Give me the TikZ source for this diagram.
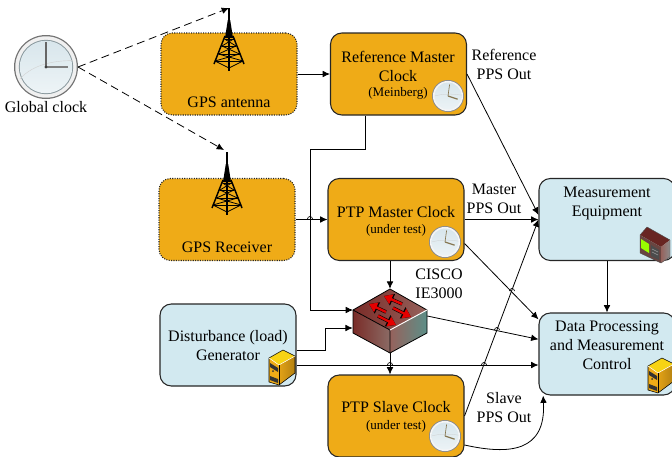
\documentclass[tikz,border=0pt]{standalone}
\usepackage{fontspec}
\setmainfont{Liberation Serif}
\usepackage{xcolor}
\usepackage{tikz}
\usetikzlibrary{arrows.meta}
\definecolor{boxorange}{HTML}{EFAB17}
\definecolor{boxblue}{HTML}{D2E9F0}
\definecolor{clockface}{HTML}{D8E6EC}
\definecolor{handbrown}{HTML}{85754F}
\definecolor{swred}{HTML}{7A2C28}
\definecolor{swmid}{HTML}{96625C}
\definecolor{swteal}{HTML}{5C8F88}
\tikzset{
    block/.style={draw=black!85, line width=0.8pt, rounded corners=8.5pt, minimum width=102pt, minimum height=61.5pt, align=center, inner sep=0pt},
    gpsblock/.style={block, fill=boxorange, densely dotted},
    clockblock/.style={block, fill=boxorange},
    infoblock/.style={block, fill=boxblue},
    label/.style={align=center, inner sep=0pt, font=\fontsize{12}{14.25}\selectfont},
    small/.style={font=\fontsize{9.8}{11}\selectfont},
    switchbox/.style={minimum width=55.5pt, minimum height=48pt, inner sep=0pt},
    link/.style={line width=0.6pt, -{Latex[length=5.5pt,width=5pt]}},
    radiolink/.style={link, dash pattern=on 6pt off 3.5pt},
    hopline/.style={line width=0.5pt},
    redarrow/.style={red!90!black, line width=1.8pt, -{Triangle[length=6pt,width=7.5pt]}},
    redshadow/.style={black, line width=2.6pt, -{Triangle[length=7pt,width=9pt]}},
    % big clock
    clockicon/.pic={
        \fill[black!55] (0,0) circle (1);
        \fill[black!6] (0,0) circle (0.96);
        \fill[black!35!boxblue] (0,0) circle (0.85);
        \shade[top color=clockface, bottom color=clockface!45] (0,0) circle (0.82);
        \draw[black!18, line width=0.3pt] (-0.82,0.38) .. controls (-0.4,-0.1) and (0.3,-0.2) .. (0.82,-0.2);
        \draw[black!60, line width=1pt] (0,0) -- (0,-0.78);
        \draw[black!50, line width=1.9pt] (0,0) -- (0.68,0);
        \fill[black!75] (0,0) circle (0.05);
    },
    % small clock of the boxes
    smallclock/.pic={
        \fill[black!45] (0,0) circle (1);
        \fill[black!4] (0,0) circle (0.94);
        \shade[top color=clockface, bottom color=clockface!50] (0,0) circle (0.84);
        \draw[black!20, line width=0.2pt] (-0.84,0) .. controls (-0.3,-0.15) and (0.3,-0.15) .. (0.84,-0.05);
        \draw[handbrown, line width=0.5pt] (0,0) -- (0.1,-0.72);
        \draw[handbrown, line width=0.9pt] (0,0) -- (0.6,0.2);
    },
    % tower
    towericon/.pic={
        \draw[line width=0.9pt] (0,0) -- (0,63);
        \fill (-1.2,12) -- (1.2,12) -- (4,30) -- (-4,30) -- cycle;
        \draw[line width=1.1pt] (-4,28) -- (-15,56) (4,28) -- (15,56);
        \foreach \ty/\tw in {31/4.5, 38/7, 46/10.5, 53/14}
            \draw[line width=0.7pt] (-\tw,\ty) -- (\tw,\ty);
        \draw[line width=0.6pt] (-4.5,31) -- (7,38) -- (-10.5,46) -- (14,53);
        \draw[line width=0.6pt] (4.5,31) -- (-7,38) -- (10.5,46) -- (-14,53);
        \draw[line width=0.6pt] (-14,53) -- (0,60) -- (14,53);
    },
    % server
    servericon/.pic={
        \fill[yellow!55!boxorange] (4,-15) -- (16,-9) -- (0,0) -- (-10,-7) -- cycle;
        \shade[left color=boxorange!95!black, right color=boxorange!75!black] (0,0) -- (16,-9) -- (16,8) -- (0,20) -- cycle;
        \fill[boxorange] (-10,-7) -- (0,0) -- (0,20) -- (-10,17) -- cycle;
        \fill[black!80] (-9,-2) -- (-1,3) -- (-1,7) -- (-9,2) -- cycle;
        \fill[black!80] (-6,6) circle (1);
        \fill[black!80] (-9,11) -- (-1,14) -- (-1,18) -- (-9,15) -- cycle;
        \draw[line width=0.4pt, line join=round] (4,-15) -- (16,-9) -- (16,8) -- (0,20) -- (-10,17) -- (-10,-7) -- cycle;
        \draw[white, line width=0.4pt] (-10,-7) -- (0,0) -- (16,-9);
        \draw[line width=0.4pt] (0,0) -- (0,20);
    },
    % measuring instrument
    metericon/.pic={
        \fill[swred!85!black] (0,0) -- (7,-8) -- (30,5) -- (21,12) -- cycle;
        \fill[swmid!70!black] (0,0) -- (21,12) -- (21,28) -- (0,18) -- cycle;
        \shade[left color=swmid, right color=black!45] (21,12) -- (30,5) -- (30,22) -- (21,28) -- cycle;
        \fill[green!40!yellow] (1,4) -- (9,9) -- (9,18) -- (1,13) -- cycle;
        \fill[black!70] (11,10) -- (19,15) -- (19,25) -- (11,21) -- cycle;
        \draw[black!40, line width=0.5pt] (12,14) -- (18,17) (12,17) -- (18,20);
        \draw[black!70, line width=0.3pt, line join=round] (0,0) -- (7,-8) -- (30,5) -- (30,22) -- (21,28) -- (0,18) -- cycle;
    },
}
\begin{document}
\begin{tikzpicture}[x=0.75pt, y=-0.75pt]
    \useasboundingbox (0,0) rectangle (672,457);

    % blocks
    \node[gpsblock] (antenna) at (229,74) {};
    \node[gpsblock] (receiver) at (227,219.5) {};
    \node[clockblock] (refclock) at (398.5,74) {};
    \node[clockblock] (masterclock) at (396,219.5) {};
    \node[clockblock] (slaveclock) at (396,416) {};
    \node[infoblock] (generator) at (228,345) {};
    \node[infoblock] (equipment) at (607,219.5) {};
    \node[infoblock] (control) at (607,354) {};
    \node[switchbox] (switch) at (390,321) {};

    % block texts
    \node[label] (antennatext) at (229,102) {GPS antenna};
    \node[label] (receivertext) at (227,247) {GPS Receiver};
    \node[label] (reftext) at (398,66.5) {Reference Master\\Clock};
    \node[label, small] (refsub) at (398,93) {(Meinberg)};
    \node[label] (mastertext) at (396,212) {PTP Master Clock};
    \node[label, small] (mastersub) at (396,230) {(under test)};
    \node[label] (slavetext) at (396,407) {PTP Slave Clock};
    \node[label, small] (slavesub) at (396,426) {(under test)};
    \node[label] (generatortext) at (228,345.5) {Disturbance (load)\\Generator};
    \node[label] (equiptext) at (607,203) {Measurement\\Equipment};
    \node[label] (controltext) at (607,345) {Data Processing\\and Measurement\\Control};

    % free labels
    \node[label] (globaltext) at (46,107) {Global clock};
    \node[label] (refout) at (504,64) {Reference\\PPS Out};
    \node[label] (masterout) at (494,199) {Master\\PPS Out};
    \node[label] (ciscotext) at (439,283.5) {CISCO\\IE3000};
    \node[label] (slaveout) at (504,408) {Slave\\PPS Out};

    % icons
    \pic[scale=32] at (46,67) {clockicon};
    \pic[scale=16] at (448,96) {smallclock};
    \pic[scale=16] at (445,242) {smallclock};
    \pic[scale=16] at (445,436) {smallclock};
    \pic at (229,8) {towericon};
    \pic at (227,152) {towericon};
    \pic at (279,365) {servericon};
    \pic at (658,373) {servericon};
    \pic at (640,235) {metericon};
    \coordinate (globalout) at (78,67);
    \coordinate (antennatip) at (229,8);
    \coordinate (receivertip) at (224,150);

    % switch
    \coordinate (swleft) at (353,310);
    \coordinate (swtop) at (390,289);
    \coordinate (swright) at (427,310);
    \coordinate (swfront) at (390,330);
    \coordinate (swlow) at (390,353);
    \coordinate (swleftlow) at (353,333);
    \coordinate (swrightlow) at (427,333);
    \shade[left color=swred, right color=swmid] (swleft) -- (swtop) -- (swright) -- (swfront) -- cycle;
    \shade[left color=swred, right color=swmid!80!swteal] (swleft) -- (swfront) -- (swlow) -- (swleftlow) -- cycle;
    \shade[left color=swmid, right color=swteal] (swfront) -- (swright) -- (swrightlow) -- (swlow) -- cycle;
    \draw[line width=0.6pt, line join=round] (swleft) -- (swtop) -- (swright) -- (swrightlow) -- (swlow) -- (swleftlow) -- cycle;
    \draw[line width=0.6pt] (swleft) -- (swfront) -- (swlow);
    \draw[white, line width=0.7pt] (swfront) -- (swright);

    % arrows on the switch
    \foreach \ax/\ay/\bx/\by in {402/304/384/296, 386/312/369/304, 393/308/411/317, 378/316/396/325} {
        \draw[redshadow] (\ax,\ay) -- (\bx,\by);
        \draw[redarrow] (\ax,\ay) -- (\bx,\by);
    }

    % connectors
    \draw[radiolink] (globalout) -- (antennatip);
    \draw[radiolink] (globalout) -- (receivertip);
    \draw[link] (antenna.east) -- (refclock.west);
    \draw[link] (receiver.east) -- (masterclock.west);
    \draw[link] ([xshift=-25pt]refclock.south) |- (310,149) -- (310,310) -- (swleft);
    \draw[link] ([yshift=-3.75pt]generator.east) -- (325,350) |- ([yshift=-5.25pt]switch.west);
    \draw[link] (switch.north |- masterclock.south) -- (switch.north);
    \draw[link] (switch.south) -- (switch.south |- slaveclock.north);
    \draw[link] (refclock.east) -- ([yshift=3.5pt]equipment.west);
    \draw[link] (masterclock.east) -- (equipment.west);
    \draw[link] (slaveclock.east) -- (equipment.west);
    \draw[link] (equipment.south) -- (control.north);
    \draw[link] ([yshift=-18pt]masterclock.east) -- ([yshift=26pt]control.west);
    \draw[link] ([yshift=3.75pt]switch.east) -- ([yshift=11pt]control.west);
    \draw[link] ([yshift=-15pt]generator.east) -- ([yshift=-15pt]generator.east -| control.west);
    \draw[link] ([yshift=-21.75pt]slaveclock.east) .. controls +(45,10) and (546,452) .. ([xshift=3.5pt]control.south west);

    % line hops
    \foreach \hx/\hy in {310/219, 390/365, 512/291, 497/330, 484/365} {
        \draw[hopline] (\hx-2.5,\hy) arc (180:360:2.5);
    }
\end{tikzpicture}
\end{document}
